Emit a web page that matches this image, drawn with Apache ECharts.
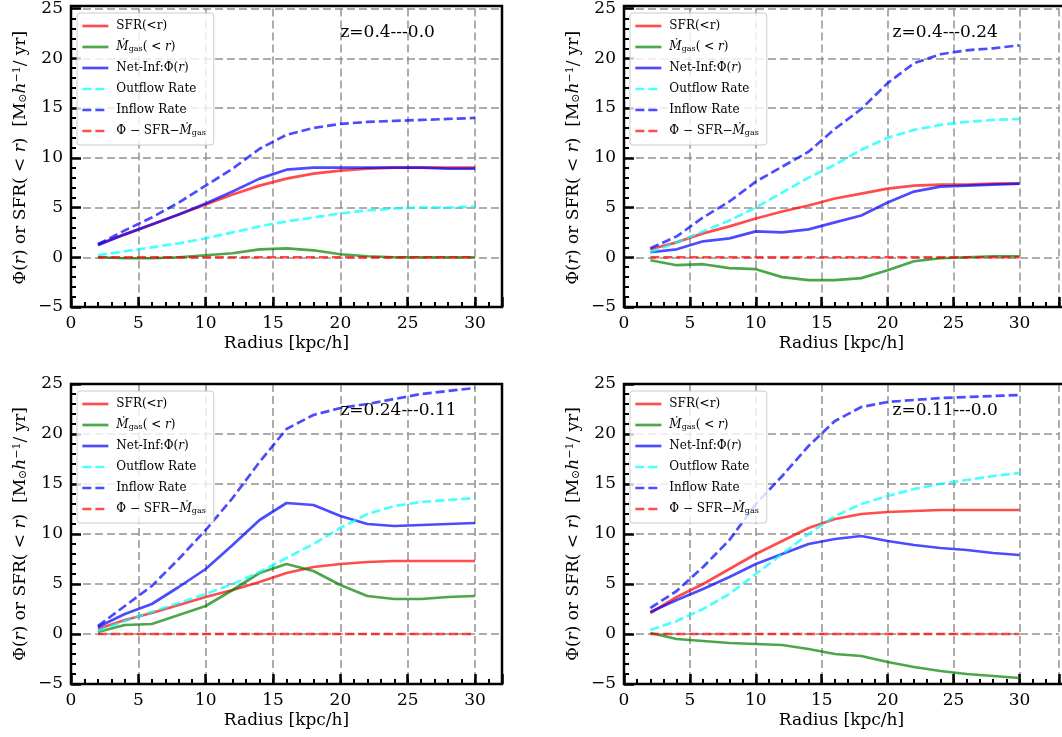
<!DOCTYPE html>
<html><head><meta charset="utf-8">
<script src="https://cdn.jsdelivr.net/npm/echarts@6/dist/echarts.min.js"></script>
<style>html,body{margin:0;padding:0;background:#fff}#c{width:1062px;height:737px}</style>
</head><body><div id="c"></div>
<script>
// ---------------- data ----------------
const radius = [2, 4, 6, 8, 10, 12, 14, 16, 18, 20, 22, 24, 26, 28, 30];
const panelTitles = ['z=0.4---0.0', 'z=0.4---0.24', 'z=0.24---0.11', 'z=0.11---0.0'];

// panel 1: z=0.4---0.0
const sfr1     = [1.3, 2.3, 3.3, 4.3, 5.3, 6.3, 7.2, 7.9, 8.4, 8.7, 8.9, 9.0, 9.0, 9.0, 9.0];
const mgas1    = [0.0, -0.1, -0.1, 0.0, 0.2, 0.4, 0.8, 0.9, 0.7, 0.3, 0.1, 0.0, 0.0, 0.0, 0.0];
const net1     = [1.2, 2.3, 3.3, 4.3, 5.4, 6.6, 7.9, 8.8, 9.0, 9.0, 9.0, 9.0, 9.0, 8.9, 8.9];
const outflow1 = [0.2, 0.6, 1.0, 1.4, 1.9, 2.5, 3.1, 3.6, 4.0, 4.4, 4.7, 4.9, 5.0, 5.0, 5.1];
const inflow1  = [1.3, 2.7, 4.0, 5.5, 7.2, 8.9, 10.9, 12.3, 13.0, 13.4, 13.6, 13.7, 13.8, 13.9, 14.0];
const resid1   = [0, 0, 0, 0, 0, 0, 0, 0, 0, 0, 0, 0, 0, 0, 0];

// panel 2: z=0.4---0.24
const sfr2     = [0.8, 1.5, 2.4, 3.1, 3.9, 4.6, 5.2, 5.9, 6.4, 6.9, 7.2, 7.3, 7.3, 7.4, 7.4];
const mgas2    = [-0.3, -0.8, -0.7, -1.1, -1.2, -2.0, -2.3, -2.3, -2.1, -1.3, -0.4, -0.1, 0.0, 0.1, 0.1];
const net2     = [0.5, 0.8, 1.6, 1.9, 2.6, 2.5, 2.8, 3.5, 4.2, 5.5, 6.6, 7.1, 7.2, 7.3, 7.4];
const outflow2 = [0.5, 1.5, 2.6, 3.7, 5.0, 6.5, 8.0, 9.3, 10.8, 12.0, 12.8, 13.3, 13.6, 13.8, 13.9];
const inflow2  = [0.9, 2.1, 4.0, 5.6, 7.6, 9.1, 10.6, 12.9, 14.9, 17.5, 19.5, 20.4, 20.8, 21.0, 21.3];
const resid2   = [0, 0, 0, 0, 0, 0, 0, 0, 0, 0, 0, 0, 0, 0, 0];

// panel 3: z=0.24---0.11
const sfr3     = [0.5, 1.4, 2.1, 2.9, 3.7, 4.4, 5.2, 6.1, 6.7, 7.0, 7.2, 7.3, 7.3, 7.3, 7.3];
const mgas3    = [0.2, 0.9, 1.0, 1.9, 2.8, 4.4, 6.1, 7.0, 6.3, 4.9, 3.8, 3.5, 3.5, 3.7, 3.8];
const net3     = [0.7, 2.0, 3.0, 4.7, 6.5, 8.9, 11.4, 13.1, 12.9, 11.8, 11.0, 10.8, 10.9, 11.0, 11.1];
const outflow3 = [0.3, 1.3, 2.2, 3.1, 4.0, 5.0, 6.2, 7.6, 9.0, 10.6, 12.0, 12.8, 13.2, 13.4, 13.6];
const inflow3  = [0.8, 2.8, 4.8, 7.5, 10.4, 13.6, 17.2, 20.5, 21.9, 22.6, 23.0, 23.5, 24.0, 24.3, 24.6];
const resid3   = [0, 0, 0, 0, 0, 0, 0, 0, 0, 0, 0, 0, 0, 0, 0];

// panel 4: z=0.11---0.0
const sfr4     = [2.1, 3.7, 5.0, 6.5, 8.0, 9.3, 10.6, 11.5, 12.0, 12.2, 12.3, 12.4, 12.4, 12.4, 12.4];
const mgas4    = [0.1, -0.5, -0.7, -0.9, -1.0, -1.1, -1.5, -2.0, -2.2, -2.8, -3.3, -3.7, -4.0, -4.2, -4.4];
const net4     = [2.2, 3.4, 4.5, 5.7, 7.0, 8.0, 9.0, 9.5, 9.8, 9.3, 8.9, 8.6, 8.4, 8.1, 7.9];
const outflow4 = [0.4, 1.3, 2.5, 4.0, 6.0, 8.0, 10.0, 11.8, 13.0, 13.8, 14.5, 15.0, 15.4, 15.8, 16.1];
const inflow4  = [2.6, 4.3, 6.7, 9.4, 13.0, 15.8, 18.8, 21.3, 22.7, 23.2, 23.4, 23.6, 23.7, 23.8, 23.9];
const resid4   = [0, 0, 0, 0, 0, 0, 0, 0, 0, 0, 0, 0, 0, 0, 0];

const seriesNames = ['SFR', 'Mgas', 'Net', 'Outflow', 'Inflow', 'Resid'];
const panels = [
  [sfr1, mgas1, net1, outflow1, inflow1, resid1],
  [sfr2, mgas2, net2, outflow2, inflow2, resid2],
  [sfr3, mgas3, net3, outflow3, inflow3, resid3],
  [sfr4, mgas4, net4, outflow4, inflow4, resid4]
];

// ---------------- style / layout ----------------
const FONT = '"DejaVu Serif", "Liberation Serif", serif';
const styles = {
  SFR:     {color: 'rgba(255,0,0,0.7)',   type: 'solid'},
  Mgas:    {color: 'rgba(0,128,0,0.7)',   type: 'solid'},
  Net:     {color: 'rgba(0,0,255,0.7)',   type: 'solid'},
  Outflow: {color: 'rgba(0,255,255,0.7)', type: [9, 4]},
  Inflow:  {color: 'rgba(0,0,255,0.7)',   type: [9, 4]},
  Resid:   {color: 'rgba(255,0,0,0.7)',   type: [9, 4]}
};
const legendText = {
  SFR: 'SFR(<r)',
  Mgas: '{i|Ṁ}{s|gas}( < {i|r})',
  Net: 'Net-Inf:Φ({i|r})',
  Outflow: 'Outflow Rate',
  Inflow: 'Inflow Rate',
  Resid: 'Φ − SFR−{i|Ṁ}{s|gas}'
};
const layout = [
  {left: 71,  top: 6,   width: 431, height: 301, xmax: 32},
  {left: 624, top: 6,   width: 443, height: 301, xmax: 33},
  {left: 71,  top: 384, width: 431, height: 300, xmax: 32},
  {left: 624, top: 384, width: 443, height: 300, xmax: 33}
];

const grid = [], xAxis = [], yAxis = [], series = [], legend = [], graphic = [];
const minus = v => String(v).replace('-', '\u2212');
const gridLine = {show: true, lineStyle: {color: 'rgba(145,145,145,0.75)', width: 2, type: [8, 4]}};

layout.forEach((g, k) => {
  grid.push({left: g.left, top: g.top, width: g.width, height: g.height, show: false, containLabel: false});
  // major x axis (labels, grid lines)
  xAxis.push({
    type: 'value', gridIndex: k, min: 0, max: g.xmax, interval: 5, position: 'bottom',
    name: 'Radius [kpc/h]', nameLocation: 'middle', nameGap: 28,
    nameTextStyle: {fontFamily: FONT, fontSize: 17, color: '#000'},
    axisLine: {show: false, onZero: false},
    axisTick: {show: true, inside: true, length: 10, lineStyle: {color: '#000', width: 2.5}},
    axisLabel: {show: true, margin: 8, fontFamily: FONT, fontSize: 17, color: '#000',
      formatter: v => (v % 5 === 0 ? minus(v) : '')},
    splitLine: gridLine
  });
  // minor x axis (ticks every 1)
  xAxis.push({
    type: 'value', gridIndex: k, min: 0, max: g.xmax, interval: 1, position: 'bottom',
    axisLine: {show: false, onZero: false},
    axisTick: {show: true, inside: true, length: 5, lineStyle: {color: '#000', width: 2}},
    axisLabel: {show: false}, splitLine: {show: false}
  });
  yAxis.push({
    type: 'value', gridIndex: k, min: -5, max: 25, interval: 5, position: 'left',
    name: '{n|Φ(}{i|r}{n|) or SFR( < }{i|r}{n|)  [M}{s|⊙}{i|h}{p|−1}{n|/ yr]}',
    nameLocation: 'middle', nameGap: 42, nameRotate: 90,
    nameTextStyle: {fontFamily: FONT, fontSize: 17, color: '#000',
      rich: {
        n: {fontFamily: FONT, fontSize: 17, color: '#000'},
        i: {fontFamily: FONT, fontSize: 17, fontStyle: 'italic', color: '#000'},
        s: {fontFamily: FONT, fontSize: 11, color: '#000', verticalAlign: 'bottom'},
        p: {fontFamily: FONT, fontSize: 11, color: '#000', verticalAlign: 'top'}
      }},
    axisLine: {show: false, onZero: false},
    axisTick: {show: true, inside: true, length: 10, lineStyle: {color: '#000', width: 2.5}},
    minorTick: {show: true, splitNumber: 5, length: 5, lineStyle: {color: '#000', width: 2}},
    axisLabel: {show: true, margin: 8, fontFamily: FONT, fontSize: 17, color: '#000', formatter: minus},
    splitLine: gridLine
  });
  seriesNames.forEach((nm, j) => {
    const st = styles[nm];
    series.push({
      name: nm, type: 'line', xAxisIndex: 2 * k, yAxisIndex: k,
      data: radius.map((r, i) => [r, panels[k][j][i]]),
      showSymbol: false, symbol: 'none', smooth: false,
      lineStyle: {color: st.color, width: 2.7, type: st.type},
      itemStyle: {color: st.color},
      emphasis: {disabled: true}, z: 2
    });
  });
  legend.push({
    data: seriesNames, orient: 'vertical',
    left: g.left + 6, top: g.top + 7,
    padding: [7, 8, 8, 4], itemWidth: 26, itemHeight: 14, itemGap: 9,
    backgroundColor: 'rgba(255,255,255,0.8)', borderColor: '#cccccc', borderWidth: 1, borderRadius: 3,
    selectedMode: false, z: 4,
    itemStyle: {color: 'rgba(0,0,0,0)', borderColor: 'rgba(0,0,0,0)', borderWidth: 0, opacity: 0},
    lineStyle: {width: 2.7},
    formatter: name => legendText[name],
    textStyle: {fontFamily: FONT, fontSize: 12, color: '#000', padding: [0, 0, 0, 3],
      rich: {
        i: {fontFamily: FONT, fontSize: 12, fontStyle: 'italic', color: '#000'},
        s: {fontFamily: FONT, fontSize: 8, color: '#000', verticalAlign: 'bottom'}
      }}
  });
  // frame
  graphic.push({type: 'rect', z: 100, silent: true,
    shape: {x: g.left, y: g.top, width: g.width, height: g.height},
    style: {fill: 'none', stroke: '#000', lineWidth: 2.5}});
  // redshift text
  const scale = g.width / g.xmax;
  graphic.push({type: 'text', z: 50, silent: true,
    x: g.left + 20 * scale, y: g.top + 27,
    style: {text: panelTitles[k], font: '17px ' + FONT, fill: '#000',
      align: 'left', verticalAlign: 'middle', textAlign: 'left', textVerticalAlign: 'middle'}});
});

const chart = echarts.init(document.getElementById('c'), null, {renderer: 'canvas'});
chart.setOption({
  animation: false, backgroundColor: '#fff',
  grid, xAxis, yAxis, series, legend, graphic
});
</script></body></html>
